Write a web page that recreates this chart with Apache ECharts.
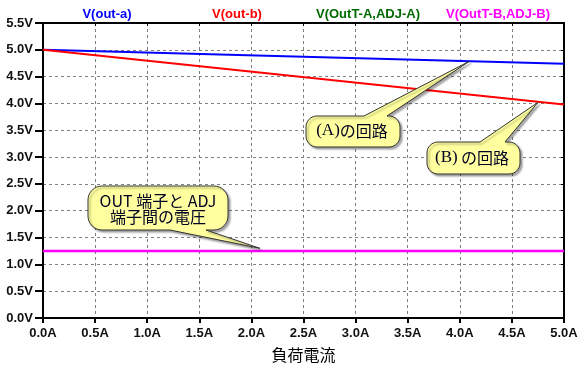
<!DOCTYPE html>
<html>
<head>
<meta charset="utf-8">
<script src="https://cdn.jsdelivr.net/npm/echarts@6/dist/echarts.min.js"></script>
<style>
html,body{margin:0;padding:0;background:#fff;}
#c{width:582px;height:368px;}
</style>
</head>
<body>
<div id="c"></div>
<script>
// ---- data ----
const loadCurrent = [0, 5];              // A
const vOutA = [5.00, 4.74];              // V(out-a)
const vOutB = [5.00, 3.98];              // V(out-b)
const vOutTA_ADJA = [1.25, 1.25];        // V(OutT-A,ADJ-A)
const vOutTB_ADJB = [1.25, 1.25];        // V(OutT-B,ADJ-B)
const seriesNames = ['V(out-a)', 'V(out-b)', 'V(OutT-A,ADJ-A)', 'V(OutT-B,ADJ-B)'];
const seriesColors = ['#0000ff', '#ff0000', '#006a00', '#ff00ff'];
const seriesWidths = [2, 2, 1, 2.5];
const xAxisName = '負荷電流';
const noteA = { text: '(A)', jp: 'の回路', at: [4.09, 4.785] };
const noteB = { text: '(B)', jp: 'の回路', at: [4.75, 4.02] };
const noteOut = { lines: ['OUT 端子と ADJ', '端子間の電圧'], at: [2.08, 1.30] };

const chart = echarts.init(document.getElementById('c'), null, { renderer: 'canvas' });
const pair = arr => loadCurrent.map((x, i) => [x, arr[i]]);
const allSeries = [vOutA, vOutB, vOutTA_ADJA, vOutTB_ADJB];

const labelFont = { fontFamily: 'Liberation Sans', fontWeight: 'bold', fontSize: 13, color: '#111' };
const splitDash = { show: true, lineStyle: { color: '#808080', type: [3, 3], width: 1 } };

chart.setOption({
  animation: false,
  backgroundColor: '#fff',
  grid: { left: 43, right: 18, top: 23, bottom: 46 },
  xAxis: [{
    type: 'value', min: 0, max: 5, interval: 0.5, position: 'bottom',
    axisLine: { show: true, onZero: false, lineStyle: { color: '#000', width: 2 } },
    axisTick: { show: true, length: 5, lineStyle: { color: '#000', width: 2 } },
    axisLabel: Object.assign({ margin: 9, formatter: v => v.toFixed(1) + 'A' }, labelFont),
    splitLine: splitDash,
    name: xAxisName, nameLocation: 'middle', nameGap: 29,
    nameTextStyle: { fontFamily: 'Noto Sans CJK JP', fontSize: 16, color: '#000' }
  }, {
    type: 'value', min: 0, max: 5, interval: 0.5, position: 'top',
    axisLine: { show: true, onZero: false, lineStyle: { color: '#000', width: 2 } },
    axisTick: { show: true, inside: true, length: 3, lineStyle: { color: '#000', width: 1 } },
    axisLabel: { show: false }, splitLine: { show: false }
  }],
  yAxis: [{
    type: 'value', min: 0, max: 5.5, interval: 0.5, position: 'left',
    axisLine: { show: true, onZero: false, lineStyle: { color: '#000', width: 2 } },
    axisTick: { show: true, length: 8, lineStyle: { color: '#000', width: 2 } },
    axisLabel: Object.assign({ margin: 10, formatter: v => v.toFixed(1) + 'V' }, labelFont),
    splitLine: splitDash
  }, {
    type: 'value', min: 0, max: 5.5, interval: 0.5, position: 'right',
    axisLine: { show: true, onZero: false, lineStyle: { color: '#000', width: 2 } },
    axisTick: { show: true, inside: true, length: 3, lineStyle: { color: '#000', width: 1 } },
    axisLabel: { show: false }, splitLine: { show: false }
  }],
  series: allSeries.map((arr, i) => ({
    name: seriesNames[i], type: 'line', data: pair(arr), showSymbol: false, symbol: 'none',
    lineStyle: { color: seriesColors[i], width: seriesWidths[i] }, itemStyle: { color: seriesColors[i] },
    xAxisIndex: 0, yAxisIndex: 0, z: 3 + i
  }))
});

// ---- annotations ----
function bubblePoints(x, y, w, h, r, edge, b1, b2, tip) {
  const pts = [];
  const arc = (cx, cy, a0, a1) => {
    const n = 8;
    for (let k = 0; k <= n; k++) {
      const a = (a0 + (a1 - a0) * k / n) * Math.PI / 180;
      pts.push([cx + r * Math.cos(a), cy + r * Math.sin(a)]);
    }
  };
  pts.push([x + r, y]);
  if (edge === 'top') { pts.push([b1, y]); pts.push(tip); pts.push([b2, y]); }
  arc(x + w - r, y + r, -90, 0);
  arc(x + w - r, y + h - r, 0, 90);
  if (edge === 'bottom') { pts.push([b2, y + h]); pts.push(tip); pts.push([b1, y + h]); }
  arc(x + r, y + h - r, 90, 180);
  arc(x + r, y + r, 180, 270);
  return pts;
}
const toPx = p => chart.convertToPixel({ xAxisIndex: 0, yAxisIndex: 0 }, p);
const bubbleStyle = {
  fill: '#ffffa0', stroke: '#333', lineWidth: 1,
  shadowBlur: 2, shadowOffsetX: 2, shadowOffsetY: 2, shadowColor: 'rgba(0,0,0,0.35)'
};
const richStyle = {
  s: { fontFamily: 'Liberation Serif', fontSize: 17, fill: '#000022' },
  j: { fontFamily: 'Noto Sans CJK JP', fontSize: 16, fill: '#000022' }
};
const graphics = [];
// series titles (legend-like)
const titleX = [107, 237, 368, 498];
seriesNames.forEach((n, i) => graphics.push({
  type: 'text', x: titleX[i], y: 14, z: 100,
  style: { text: n, fill: seriesColors[i], font: 'bold 13px "Liberation Sans"', align: 'center', verticalAlign: 'middle' }
}));
// bubble A
graphics.push({ type: 'polygon', z: 50, shape: { points: bubblePoints(306, 116, 94, 31, 11, 'top', 364, 387, toPx(noteA.at)) }, style: bubbleStyle });
graphics.push({ type: 'text', z: 51, x: 352, y: 131, style: { text: '{s|' + noteA.text + '}{j|' + noteA.jp + '}', rich: richStyle, align: 'center', verticalAlign: 'middle' } });
// bubble B
graphics.push({ type: 'polygon', z: 50, shape: { points: bubblePoints(427, 142, 93, 32, 11, 'top', 480, 505, toPx(noteB.at)) }, style: bubbleStyle });
graphics.push({ type: 'text', z: 51, x: 472, y: 158, style: { text: '{s|' + noteB.text + '} {j|' + noteB.jp + '}', rich: richStyle, align: 'center', verticalAlign: 'middle' } });
// bubble OUT
graphics.push({ type: 'polygon', z: 50, shape: { points: bubblePoints(88, 186, 140, 44, 14, 'bottom', 170, 206, toPx(noteOut.at)) }, style: bubbleStyle });
noteOut.lines.forEach((t, i) => graphics.push({
  type: 'text', z: 51, x: 158, y: 201 + i * 16,
  style: { text: t, font: '16px "Noto Sans CJK JP"', fill: '#000022', align: 'center', verticalAlign: 'middle' }
}));
chart.setOption({ graphic: graphics });
</script>
</body>
</html>
